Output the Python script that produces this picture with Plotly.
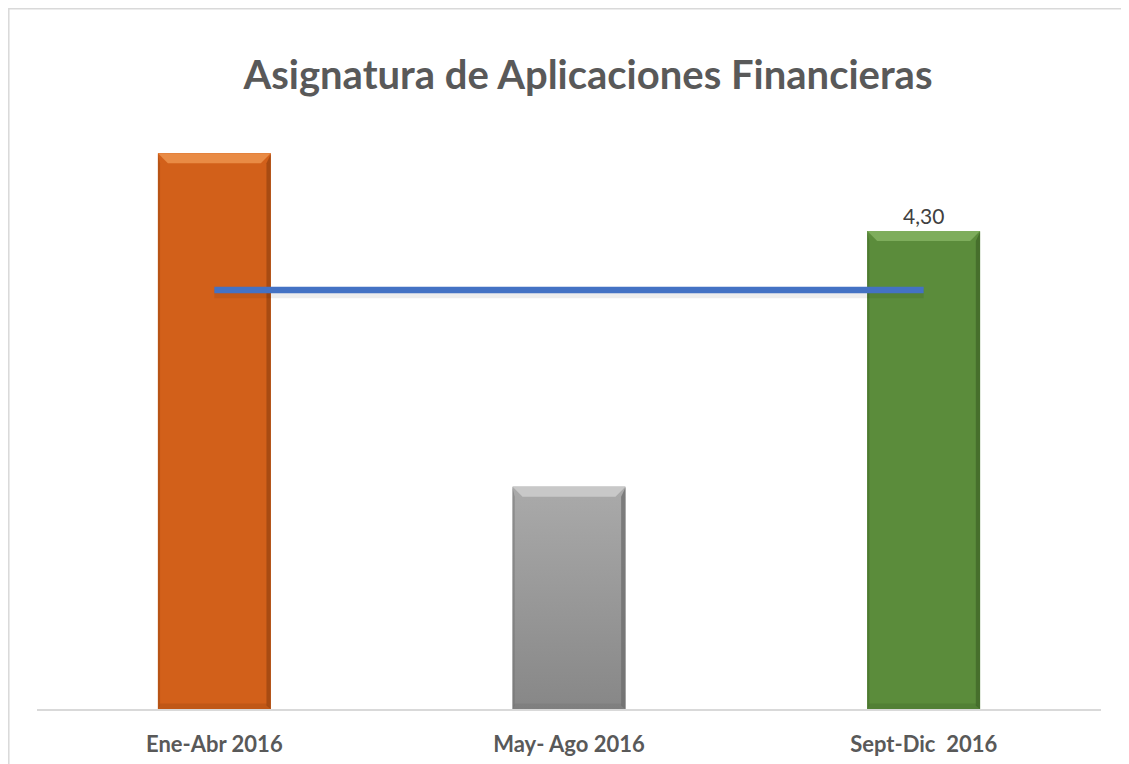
import plotly.graph_objects as go

# ---- data ----
categorias = ["Ene-Abr 2016", "May- Ago 2016", "Sept-Dic  2016"]
valores = [5.00, 2.00, 4.30]
etiquetas = ["", "", "4,30"]
promedio = [3.77, 3.77, 3.77]

# ---- styles ----
base_cols = ["#D2601A", "#9B9B9B", "#5B8C3B"]
grad_bottom = ["#D2601A", "#878787", "#5B8C3B"]
grad_top = ["#D2601A", "#AAAAAA", "#5B8C3B"]
light_cols = ["#E98B45", "#C8C8C8", "#7EAD5C"]
dark_cols = ["#9A4510", "#6E6E6E", "#3F6628"]
BAR_W = 0.318
H = BAR_W / 2
DX = 0.028
DY = 0.09

xs = list(range(len(categorias)))

fig = go.Figure()

fig.add_trace(go.Bar(
    x=xs, y=valores, width=BAR_W,
    marker=dict(color=base_cols, line=dict(width=0)),
    text=etiquetas, textposition="outside",
    textfont=dict(family="Lato", size=21, color="#404040"),
    cliponaxis=False, hoverinfo="skip", showlegend=False,
))

# gradient body + bevel overlays, all derived from the data arrays
for i, v in zip(xs, valores):
    l, r = i - H, i + H
    fig.add_trace(go.Scatter(
        x=[l, r, r, l, l], y=[0, 0, v, v, 0], mode="lines",
        line=dict(width=0), fill="toself",
        fillgradient=dict(type="vertical",
                          colorscale=[[0, grad_bottom[i]], [1, grad_top[i]]]),
        hoverinfo="skip", showlegend=False))
    # top bevel (light)
    fig.add_trace(go.Scatter(
        x=[l, r, r - DX, l + DX, l], y=[v, v, v - DY, v - DY, v], mode="lines",
        line=dict(width=0), fill="toself", fillcolor=light_cols[i],
        hoverinfo="skip", showlegend=False))
    # right edge (dark)
    fig.add_trace(go.Scatter(
        x=[r, r, r - 0.012, r - 0.012, r], y=[v - 0.01, 0, 0.03, v - DY, v - 0.01],
        mode="lines", line=dict(width=0), fill="toself", fillcolor=dark_cols[i],
        opacity=0.75, hoverinfo="skip", showlegend=False))
    # left edge (slightly dark)
    fig.add_trace(go.Scatter(
        x=[l, l, l + 0.006, l + 0.006, l], y=[v - 0.01, 0, 0.03, v - DY, v - 0.01],
        mode="lines", line=dict(width=0), fill="toself", fillcolor=dark_cols[i],
        opacity=0.45, hoverinfo="skip", showlegend=False))
    # bottom band
    fig.add_trace(go.Scatter(
        x=[l, r, r - 0.012, l + 0.006, l], y=[0, 0, 0.05, 0.05, 0],
        mode="lines", line=dict(width=0), fill="toself", fillcolor=dark_cols[i],
        opacity=0.3, hoverinfo="skip", showlegend=False))

# average line shadow + line
fig.add_trace(go.Scatter(
    x=xs, y=[p - 0.035 for p in promedio], mode="lines",
    line=dict(color="rgba(0,0,0,0.07)", width=9),
    hoverinfo="skip", showlegend=False))
fig.add_trace(go.Scatter(
    x=xs, y=promedio, mode="lines",
    line=dict(color="#4472C4", width=6.5),
    hoverinfo="skip", showlegend=False))

fig.update_layout(
    width=1129, height=764,
    margin=dict(l=29, r=35.5, t=89, b=63),
    paper_bgcolor="white", plot_bgcolor="white",
    title=dict(text="<b>Asignatura de Aplicaciones Financieras</b>",
               font=dict(family="Lato", size=40, color="#595959"),
               xref="container", yref="container",
               x=0.5137, y=0.9123, xanchor="center", yanchor="middle"),
    xaxis=dict(range=[-0.5, 2.5], tickvals=xs,
               ticktext=["<b>%s</b>" % c.replace("  ", "&nbsp; ") for c in categorias],
               tickfont=dict(family="Lato", size=22, color="#595959"),
               showgrid=False, zeroline=False,
               showline=True, linecolor="#D9D9D9", linewidth=2,
               ticks="outside", ticklen=15, tickcolor="rgba(0,0,0,0)"),
    yaxis=dict(range=[0, 5.505], visible=False, showgrid=False, zeroline=False),
    shapes=[dict(type="rect", xref="paper", yref="paper",
                 x0=-0.0265, x1=1.3, y0=-0.5, y1=1.1442,
                 line=dict(color="#D9D9D9", width=1.5), fillcolor="rgba(0,0,0,0)")],
)

fig.write_html("out.html")
